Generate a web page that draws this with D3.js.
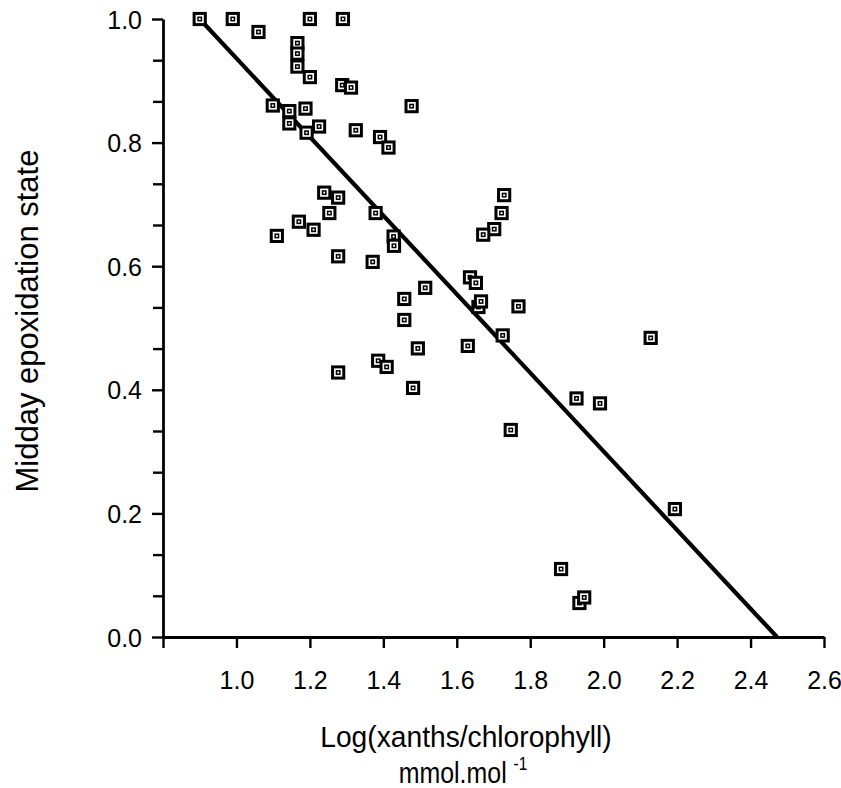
<!DOCTYPE html>
<html>
<head>
<meta charset="utf-8">
<script src="https://cdn.jsdelivr.net/npm/d3@7"></script>
<style>
  html, body { margin: 0; padding: 0; background: #fff; }
  text { font-family: "Liberation Sans", Arial, Helvetica, sans-serif; fill: #000; }
</style>
</head>
<body>
<div id="chart"></div>
<script>
// log(xanthophylls/chlorophyll) vs midday epoxidation state
const xanth = [
  0.90, 0.99, 1.06, 1.20, 1.29, 1.166, 1.166, 1.166, 1.20, 1.288,
  1.312, 1.477, 1.099, 1.144, 1.144, 1.188, 1.225, 1.191, 1.325, 1.391,
  1.414, 1.239, 1.277, 1.253, 1.379, 1.170, 1.210, 1.110, 1.428, 1.429,
  1.277, 1.371, 1.729, 1.722, 1.702, 1.672, 1.636, 1.652, 1.514, 1.457,
  1.659, 1.666, 1.768, 1.457, 1.725, 1.630, 1.494, 1.386, 1.409, 1.277,
  1.481, 2.128, 1.926, 1.990, 1.747, 2.194, 1.884, 1.934, 1.947
];
const epox = [
  1.000, 1.000, 0.979, 1.000, 1.000, 0.961, 0.944, 0.923, 0.906, 0.893,
  0.889, 0.859, 0.860, 0.851, 0.831, 0.855, 0.826, 0.816, 0.820, 0.809,
  0.792, 0.719, 0.711, 0.686, 0.686, 0.672, 0.659, 0.649, 0.648, 0.633,
  0.616, 0.607, 0.715, 0.686, 0.660, 0.651, 0.582, 0.573, 0.565, 0.547,
  0.534, 0.543, 0.535, 0.513, 0.488, 0.471, 0.467, 0.447, 0.437, 0.428,
  0.403, 0.484, 0.386, 0.378, 0.335, 0.207, 0.110, 0.055, 0.064
];

// fitted regression line end points
const fitX = [0.90, 2.472];
const fitY = [1.0, 0.0];

const xTicks = [0.8, 1.0, 1.2, 1.4, 1.6, 1.8, 2.0, 2.2, 2.4, 2.6];
const yTicks = [0.0, 0.2, 0.4, 0.6, 0.8, 1.0];
const yMinor = d3.range(0, 16).map(i => i / 15).filter(v => Math.round(v * 15) % 3 !== 0);

const width = 841, height = 788;
const margin = { top: 19, right: 17, bottom: 151, left: 163 };

let svg = d3.select("#chart")
  .append("svg")
  .attr("width", width)
  .attr("height", height)
  .attr("viewBox", `0 0 ${width} ${height}`);

svg.append("rect").attr("width", width).attr("height", height).attr("fill", "#fff");

let x = d3.scaleLinear().domain([0.8, 2.6]).range([margin.left, width - margin.right]);
let y = d3.scaleLinear().domain([0, 1]).range([height - margin.bottom, margin.top]);

// y axis, major and minor ticks
let gy = svg.append("g")
  .attr("transform", `translate(${margin.left},0)`)
  .call(d3.axisLeft(y).tickValues(yTicks).tickSize(11).tickSizeOuter(0).tickPadding(10)
    .tickFormat(d3.format(".1f")));

svg.append("g")
  .attr("transform", `translate(${margin.left},0)`)
  .call(d3.axisLeft(y).tickValues(yMinor).tickSize(10).tickFormat(""))
  .select(".domain").remove();

// x axis
let gx = svg.append("g")
  .attr("transform", `translate(0,${height - margin.bottom})`)
  .call(d3.axisBottom(x).tickValues(xTicks).tickSize(11).tickSizeOuter(0).tickPadding(23)
    .tickFormat(d => d === 0.8 ? "" : d3.format(".1f")(d)));

svg.selectAll(".domain").attr("stroke", "#000").attr("stroke-width", 2.8);
svg.selectAll(".tick line").attr("stroke", "#000").attr("stroke-width", 2.4);
svg.selectAll(".tick text").attr("font-size", 25).style("font-family", '"Liberation Sans", Arial, sans-serif');
gy.selectAll(".tick text").attr("dy", "0.36em");

// regression line
svg.append("line")
  .attr("x1", x(fitX[0])).attr("y1", y(fitY[0]))
  .attr("x2", x(fitX[1])).attr("y2", y(fitY[1]))
  .attr("stroke", "#000")
  .attr("stroke-width", 4.2);

// points: open squares with a dot
let pts = svg.append("g")
  .selectAll("g")
  .data(d3.range(xanth.length))
  .enter()
  .append("g")
  .attr("transform", i => `translate(${x(xanth[i])},${y(epox[i])})`);

pts.append("rect")
  .attr("x", -5.6).attr("y", -5.6)
  .attr("width", 11.2).attr("height", 11.2)
  .attr("fill", "#fff")
  .attr("stroke", "#000")
  .attr("stroke-width", 3);

pts.append("rect")
  .attr("x", -1.7).attr("y", -1.7)
  .attr("width", 3.4).attr("height", 3.4)
  .attr("fill", "#fff")
  .attr("stroke", "#000")
  .attr("stroke-width", 1.5);

// axis titles
svg.append("text")
  .attr("transform", `translate(38,321) rotate(-90)`)
  .attr("text-anchor", "middle")
  .attr("font-size", 31)
  .text("Midday epoxidation state");

svg.append("text")
  .attr("transform", "translate(466,747) scale(0.94,1)")
  .attr("text-anchor", "middle")
  .attr("font-size", 30)
  .text("Log(xanths/chlorophyll)");

let unit = svg.append("text")
  .attr("transform", "translate(463,783) scale(0.86,1)")
  .attr("text-anchor", "middle")
  .attr("font-size", 29);
unit.append("tspan").text("mmol.mol ");
unit.append("tspan").attr("font-size", 18).attr("dy", -13).text("-1");
</script>
</body>
</html>
